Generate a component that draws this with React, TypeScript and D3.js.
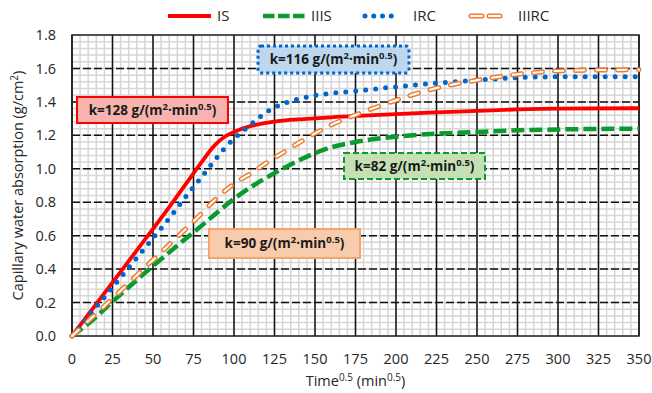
import React from "react";
import * as d3 from "d3";

// Capillary water absorption vs square root of time, four mixes
const xTicks = [0, 25, 50, 75, 100, 125, 150, 175, 200, 225, 250, 275, 300, 325, 350];
const yTicks = [0, 0.2, 0.4, 0.6, 0.8, 1.0, 1.2, 1.4, 1.6, 1.8];

const seriesIS: [number, number][] = [
  [0, 0], [10, 0.128], [20, 0.256], [30, 0.384], [40, 0.512], [50, 0.64], [60, 0.77],
  [70, 0.905], [80, 1.04], [88, 1.14], [94, 1.19], [100, 1.22], [110, 1.255], [120, 1.275],
  [130, 1.288], [145, 1.298], [160, 1.308], [180, 1.318], [200, 1.327], [220, 1.336],
  [250, 1.346], [275, 1.355], [300, 1.36], [350, 1.362],
];
const seriesIIIS: [number, number][] = [
  [0, 0], [12, 0.09], [25, 0.205], [40, 0.335], [60, 0.5], [80, 0.66], [100, 0.82],
  [112, 0.9], [128, 0.99], [140, 1.05], [160, 1.128], [175, 1.16], [200, 1.192],
  [225, 1.21], [250, 1.22], [275, 1.23], [300, 1.235], [350, 1.24],
];
const seriesIRC: [number, number][] = [
  [0, 0], [10, 0.115], [20, 0.232], [30, 0.35], [40, 0.467], [50, 0.585], [60, 0.703],
  [70, 0.83], [80, 0.95], [88, 1.05], [94, 1.12], [100, 1.18], [106, 1.23], [111, 1.27],
  [116, 1.31], [121, 1.345], [126, 1.372], [133, 1.398], [141, 1.42], [150, 1.438],
  [175, 1.465], [200, 1.49], [225, 1.512], [250, 1.53], [275, 1.545], [300, 1.55], [350, 1.55],
];
const seriesIIIRC: [number, number][] = [
  [0, 0], [25, 0.225], [50, 0.455], [75, 0.685], [90, 0.83], [100, 0.91], [110, 0.97],
  [120, 1.035], [130, 1.095], [140, 1.155], [150, 1.212], [160, 1.262], [180, 1.34],
  [200, 1.41], [220, 1.47], [250, 1.53], [275, 1.565], [300, 1.585], [325, 1.59], [350, 1.592],
];

const seriesNames = ["IS", "IIIS", "IRC", "IIIRC"];
const rateLabels = ["128", "82", "116", "90"];

const W = 652;
const H = 393;
const FONT = "'Open Sans', 'Liberation Sans', sans-serif";

const x = d3.scaleLinear().domain([0, 350]).range([72, 639]);
const y = d3.scaleLinear().domain([0, 1.8]).range([336, 35]);

const line = d3
  .line<[number, number]>()
  .x((d) => x(d[0]))
  .y((d) => y(d[1]))
  .curve(d3.curveMonotoneX);

const RED = "#ff0000";
const GREEN = "#0a9a2e";
const BLUE = "#0066cc";
const ORANGE = "#ee7d31";
const TEXT = "#262626";

function RateLabel({ k, cx, cy }: { k: string; cx: number; cy: number }) {
  return (
    <text x={cx} y={cy} textAnchor="middle" fontFamily={FONT} fontWeight="bold" fontSize={13.5} fill="#1a1a1a">
      {`k=${k} g/(m`}
      <tspan fontSize={9.5} dy={-5}>2</tspan>
      <tspan dy={5}>·min</tspan>
      <tspan fontSize={9.5} dy={-5}>0.5</tspan>
      <tspan dy={5}>)</tspan>
    </text>
  );
}

export default function App() {
  const minorX = d3.range(0, 350.01, 5);
  const minorY = d3.range(0, 1.8001, 0.04);
  const [x0, x1] = x.range();
  const [y0, y1] = y.range();

  return (
    <svg width={W} height={H} style={{ position: "absolute", left: 0, top: 0, background: "#fff" }}>
      {/* minor grid */}
      <g stroke="#d6d6d6" strokeWidth={1.5}>
        {minorX.map((v) => (
          <line key={"mx" + v} x1={x(v)} x2={x(v)} y1={y0} y2={y1} />
        ))}
        {minorY.map((v) => (
          <line key={"my" + v} x1={x0} x2={x1} y1={y(v)} y2={y(v)} />
        ))}
      </g>
      {/* major grid */}
      <g stroke="#111" strokeWidth={1.5}>
        {xTicks.map((v) => (
          <line key={"gx" + v} x1={x(v)} x2={x(v)} y1={y0} y2={y1} />
        ))}
      </g>
      <g stroke="#111" strokeWidth={1.5} strokeDasharray="8 3">
        {yTicks.slice(1, -1).map((v) => (
          <line key={"gy" + v} x1={x0} x2={x1} y1={y(v)} y2={y(v)} />
        ))}
      </g>
      <rect x={x0} y={y1} width={x1 - x0} height={y0 - y1} fill="none" stroke="#222" strokeWidth={1.5} />

      {/* tick labels */}
      <g fontFamily={FONT} fontSize={14.5} fill={TEXT}>
        {yTicks.map((v) => (
          <text key={"ty" + v} x={56} y={y(v)} dy="0.35em" textAnchor="end">
            {v.toFixed(1)}
          </text>
        ))}
        {xTicks.map((v) => (
          <text key={"tx" + v} x={x(v)} y={364} textAnchor="middle">
            {v}
          </text>
        ))}
      </g>

      {/* axis titles */}
      <text x={(x0 + x1) / 2} y={386} textAnchor="middle" fontFamily={FONT} fontSize={14.5} fill={TEXT}>
        Time<tspan fontSize={10} dy={-5}>0.5</tspan>
        <tspan dy={5}>{" (min"}</tspan>
        <tspan fontSize={10} dy={-5}>0.5</tspan>
        <tspan dy={5}>)</tspan>
      </text>
      <text
        transform={`translate(23,${(y0 + y1) / 2}) rotate(-90)`}
        textAnchor="middle"
        fontFamily={FONT}
        fontSize={14.5}
        fill={TEXT}
      >
        Capillary water absorption (g/cm<tspan fontSize={10} dy={-5}>2</tspan>
        <tspan dy={5}>)</tspan>
      </text>

      {/* series */}
      <path d={line(seriesIS)!} fill="none" stroke={RED} strokeWidth={3.8} />
      <path d={line(seriesIIIS)!} fill="none" stroke={GREEN} strokeWidth={4.5} strokeDasharray="13 5" />
      <path d={line(seriesIRC)!} fill="none" stroke={BLUE} strokeWidth={5} strokeDasharray="0 10" strokeLinecap="round" />
      <path d={line(seriesIIIRC)!} fill="none" stroke={ORANGE} strokeWidth={5} strokeDasharray="9 12" strokeLinecap="round" />
      <path d={line(seriesIIIRC)!} fill="none" stroke="#fff" strokeWidth={2} strokeDasharray="9 12" strokeLinecap="round" />

      {/* rate labels */}
      <rect x={77} y={97} width={151} height={26} fill="#f7b3ae" stroke={RED} strokeWidth={2} />
      <RateLabel k={rateLabels[0]} cx={152.5} cy={115} />
      <rect x={258} y={46} width={151} height={27} rx={3} fill="#bdd7ee" stroke={BLUE} strokeWidth={3} strokeDasharray="3 3" />
      <RateLabel k={rateLabels[2]} cx={333.5} cy={64} />
      <rect x={344} y={153} width={141} height={26} fill="#c5e0b4" stroke={GREEN} strokeWidth={2} strokeDasharray="6 3" />
      <RateLabel k={rateLabels[1]} cx={414.5} cy={171} />
      <rect x={209} y={229} width={151} height={29} fill="#f8cbad" stroke="#f4a36a" strokeWidth={2} />
      <RateLabel k={rateLabels[3]} cx={284.5} cy={248} />

      {/* legend */}
      <g fontFamily={FONT} fontSize={15} fill={TEXT}>
        <line x1={168} x2={211} y1={16} y2={16} stroke={RED} strokeWidth={4} />
        <text x={217} y={21}>{seriesNames[0]}</text>
        <line x1={263} x2={305} y1={16} y2={16} stroke={GREEN} strokeWidth={4.5} strokeDasharray="11.5 3.5" />
        <text x={311} y={21}>{seriesNames[1]}</text>
        <line x1={365} x2={400} y1={16} y2={16} stroke={BLUE} strokeWidth={5} strokeDasharray="0 8.75" strokeLinecap="round" />
        <text x={413} y={21}>{seriesNames[2]}</text>
        <line x1={471} x2={503} y1={16} y2={16} stroke={ORANGE} strokeWidth={5} strokeDasharray="11 7" strokeLinecap="round" />
        <line x1={471} x2={503} y1={16} y2={16} stroke="#fff" strokeWidth={2} strokeDasharray="11 7" strokeLinecap="round" />
        <text x={518} y={21}>{seriesNames[3]}</text>
      </g>
    </svg>
  );
}
